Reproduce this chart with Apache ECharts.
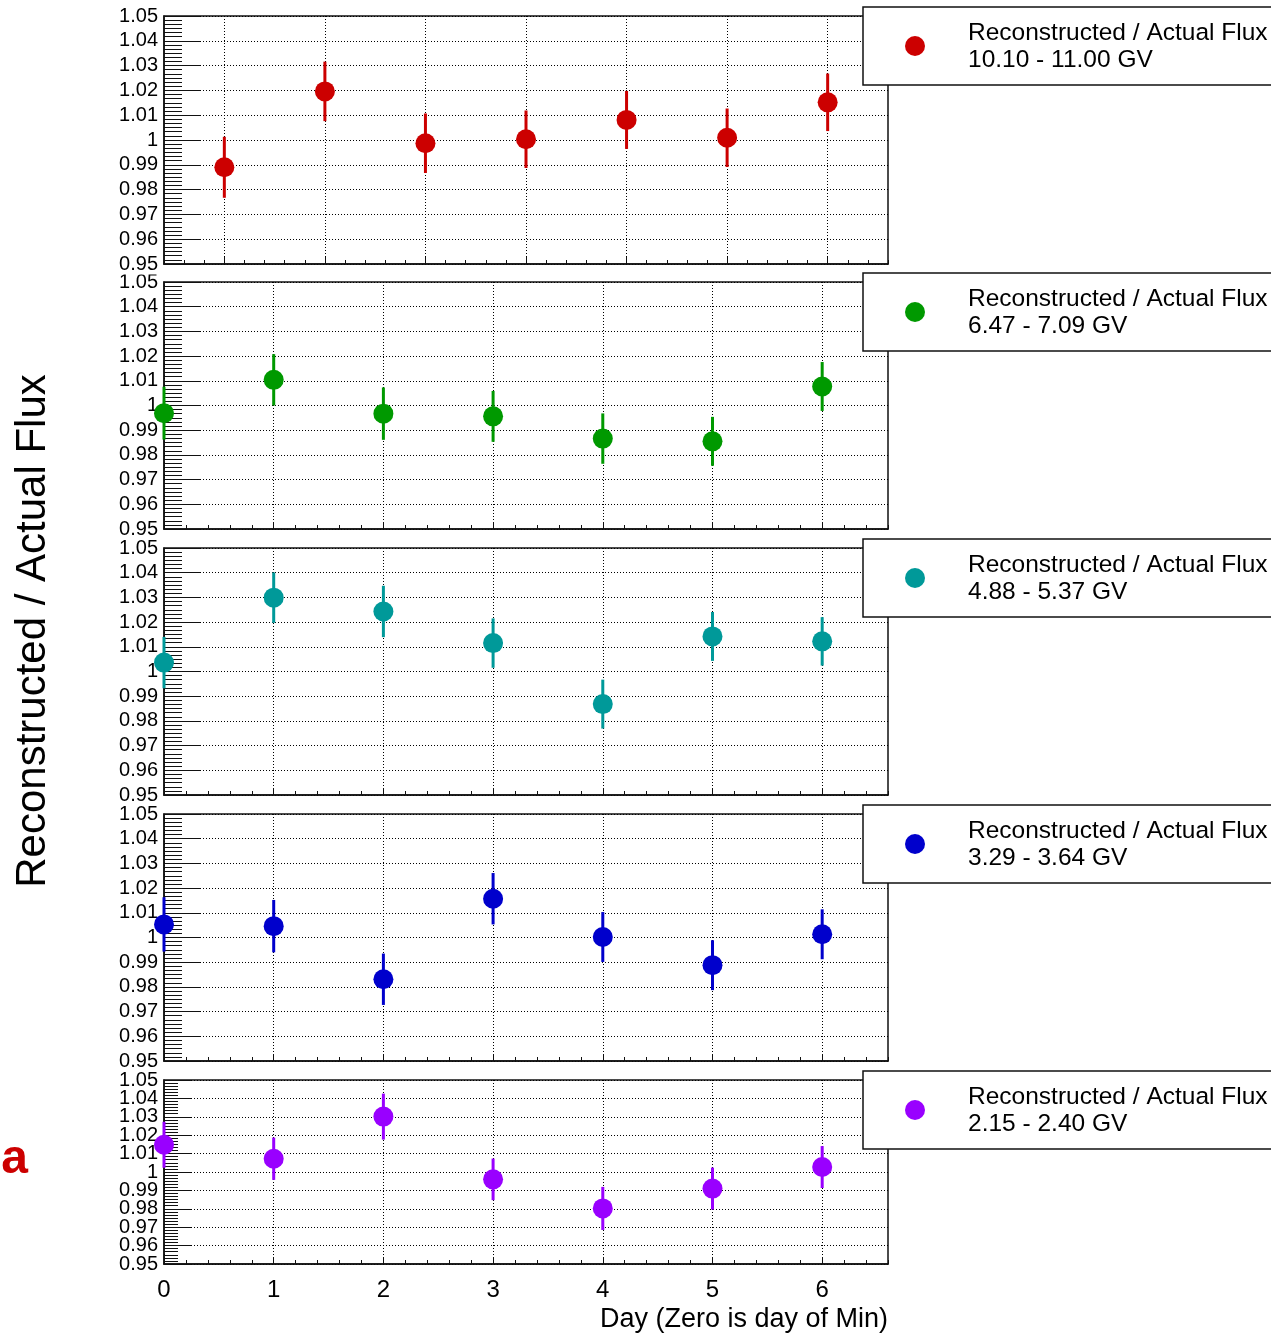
<!DOCTYPE html>
<html><head><meta charset="utf-8">
<script src="https://cdn.jsdelivr.net/npm/echarts@6/dist/echarts.min.js"></script>
<style>html,body{margin:0;padding:0;background:#fff}#c{width:1271px;height:1337px}</style>
</head><body><div id="c"></div>
<script>
// ---------- data ----------
const days = [0, 1, 2, 3, 4, 5, 6];
const xTickLabels = ['0', '1', '2', '3', '4', '5', '6'];
const yTickValues = [0.95, 0.96, 0.97, 0.98, 0.99, 1.00, 1.01, 1.02, 1.03, 1.04, 1.05];
const yTickLabels = ['0.95','0.96','0.97','0.98','0.99','1','1.01','1.02','1.03','1.04','1.05'];

const binLabels = ['10.10 - 11.00 GV', '6.47 - 7.09 GV', '4.88 - 5.37 GV', '3.29 - 3.64 GV', '2.15 - 2.40 GV'];
const seriesTitle = 'Reconstructed / Actual Flux';

const ratio_10_11 = [0.9890, 1.0196, 0.9987, 1.0003, 1.0081, 1.0009, 1.0152];
const err_10_11   = [0.0123, 0.0120, 0.0120, 0.0116, 0.0117, 0.0118, 0.0116];
const ratio_647_709 = [0.9969, 1.0104, 0.9967, 0.9956, 0.9866, 0.9855, 1.0077];
const err_647_709   = [0.0107, 0.0104, 0.0106, 0.0103, 0.0102, 0.0099, 0.0099];
const ratio_488_537 = [1.0036, 1.0299, 1.0243, 1.0115, 0.9868, 1.0142, 1.0122];
const err_488_537   = [0.0104, 0.0102, 0.0104, 0.0100, 0.0099, 0.0099, 0.0098];
const ratio_329_364 = [1.0053, 1.0046, 0.9831, 1.0157, 1.0002, 0.9888, 1.0013];
const err_329_364   = [0.0110, 0.0106, 0.0104, 0.0104, 0.0101, 0.0101, 0.0101];
const ratio_215_240 = [1.0148, 1.0072, 1.0301, 0.9960, 0.9802, 0.9910, 1.0027];
const err_215_240   = [0.0125, 0.0115, 0.0125, 0.0113, 0.0117, 0.0114, 0.0114];

const ratios = [ratio_10_11, ratio_647_709, ratio_488_537, ratio_329_364, ratio_215_240];
const errs   = [err_10_11, err_647_709, err_488_537, err_329_364, err_215_240];
const colors = ['#cc0000', '#009900', '#009999', '#0000cc', '#9900ff'];

// ---------- layout ----------
const FONT = '"Liberation Sans", Arial, Helvetica, sans-serif';
const gridTops = [16, 282, 548, 814, 1080];
const gridHeights = [248, 247, 247, 247, 184];
const xMins = [-0.6, 0, 0, 0, 0];
const X_MAX = 6.6;
const GL = 164, GW = 724;

const grids = [], xAxes = [], yAxes = [], series = [], graphics = [];

function yLabelFmt(v) { return yTickLabels[Math.round((v - 0.95) / 0.01)]; }
const yLabelStyle = {color: '#000', fontSize: 20, fontFamily: FONT, margin: 6, padding: [4, 0, 0, 0]};

function renderErr(params, api) {
  const x = api.value(0), y = api.value(1), e = api.value(2);
  const c = api.coord([x, y]);
  const t = api.coord([x, y + e]);
  const b = api.coord([x, y - e]);
  const col = api.visual('color');
  return {
    type: 'group',
    children: [
      {type: 'line', shape: {x1: c[0], y1: t[1], x2: c[0], y2: b[1]}, style: {stroke: col, lineWidth: 3}},
      {type: 'circle', shape: {cx: c[0], cy: c[1], r: 10}, style: {fill: col}}
    ]
  };
}

for (let i = 0; i < 5; i++) {
  const small = i === 4;
  grids.push({left: GL, top: gridTops[i], width: GW, height: gridHeights[i],
    show: true, borderColor: '#111', borderWidth: 1.5, backgroundColor: 'transparent'});

  xAxes.push({
    gridIndex: i, type: 'value', position: 'bottom', min: xMins[i], max: X_MAX, interval: 0.2,
    axisLine: {show: true, onZero: false, lineStyle: {color: '#111', width: 1.5}},
    axisTick: {show: true, inside: true, length: 7, customValues: days, lineStyle: {color: '#111', width: 1}},
    axisLabel: i === 4 ? {
      show: true, customValues: days, color: '#000', fontSize: 24, fontFamily: FONT, margin: 14,
      formatter: v => xTickLabels[days.indexOf(Math.round(v))]
    } : {show: false},
    splitLine: {show: true, lineStyle: {type: [1, 2], color: '#000', width: 1}}
  });
  xAxes.push({
    gridIndex: i, type: 'value', position: 'bottom', min: xMins[i], max: X_MAX, interval: 0.2,
    axisLine: {show: false, onZero: false},
    axisTick: {show: true, inside: true, length: 4, lineStyle: {color: '#111', width: 1}},
    axisLabel: {show: false}, splitLine: {show: false}
  });

  yAxes.push({
    gridIndex: i, type: 'value', position: 'left', min: 0.95, max: 1.05, interval: 0.01,
    axisLine: {show: true, onZero: false, lineStyle: {color: '#111', width: 1.5}},
    axisTick: {show: true, inside: true, length: small ? 27 : 36, lineStyle: {color: '#111', width: 1}},
    minorTick: {show: true, splitNumber: 6, length: small ? 14 : 18, lineStyle: {color: '#111', width: 1}},
    axisLabel: small
      ? Object.assign({show: true, customValues: yTickValues.filter((v, k) => k % 2 === 0), formatter: yLabelFmt}, yLabelStyle)
      : Object.assign({show: true, showMinLabel: true, showMaxLabel: true, formatter: yLabelFmt}, yLabelStyle),
    splitLine: {show: true, lineStyle: {type: [1, 2], color: '#000', width: 1}}
  });

  series.push({
    type: 'custom', name: binLabels[i], xAxisIndex: 2 * i, yAxisIndex: i,
    data: days.map((d, k) => [d, ratios[i][k], errs[i][k]]),
    renderItem: renderErr, itemStyle: {color: colors[i]}, clip: false, z: 10
  });

  // legend box
  const top = gridTops[i];
  graphics.push({type: 'rect', shape: {x: 863, y: top - 9, width: 440, height: 78},
    style: {fill: '#fff', stroke: '#111', lineWidth: 1.5}, z: 100});
  graphics.push({type: 'circle', shape: {cx: 915, cy: top + 30, r: 10},
    style: {fill: colors[i]}, z: 101});
  graphics.push({type: 'text', x: 968, y: top + 17, z: 101,
    style: {text: seriesTitle, font: '24.5px ' + FONT, fill: '#000', textAlign: 'left', textVerticalAlign: 'middle'}});
  graphics.push({type: 'text', x: 968, y: top + 44, z: 101,
    style: {text: binLabels[i], font: '24.5px ' + FONT, fill: '#000', textAlign: 'left', textVerticalAlign: 'middle'}});

  // pad boundary clipping of the lowest tick label (panels 1-4)
  if (i < 4) {
    const bottom = gridTops[i] + gridHeights[i];
    graphics.push({type: 'rect', shape: {x: 100, y: bottom + 6, width: 62, height: 4.5},
      style: {fill: '#fff'}, z: 99});
  }
}

// extra label axis for the short bottom panel (odd ticks), so all labels show
yAxes.push({
  gridIndex: 4, type: 'value', position: 'left', offset: 0, min: 0.95, max: 1.05, interval: 0.01,
  axisLine: {show: false, onZero: false}, axisTick: {show: false}, minorTick: {show: false}, splitLine: {show: false},
  axisLabel: Object.assign({show: true, customValues: yTickValues.filter((v, k) => k % 2 === 1), formatter: yLabelFmt}, yLabelStyle)
});

// y title
graphics.push({type: 'text', x: 33, y: 631, rotation: Math.PI / 2, z: 101,
  style: {text: 'Reconstructed / Actual Flux', font: '42px ' + FONT, fill: '#000', textAlign: 'center', textVerticalAlign: 'middle'}});
// x title
graphics.push({type: 'text', x: 888, y: 1320, z: 101,
  style: {text: 'Day (Zero is day of Min)', font: '27px ' + FONT, fill: '#000', textAlign: 'right', textVerticalAlign: 'middle'}});
// cut-off red label at left edge
graphics.push({type: 'text', x: 28, y: 1160, z: 101,
  style: {text: 'a', font: 'bold 48px ' + FONT, fill: '#cc0000', textAlign: 'right', textVerticalAlign: 'middle'}});

const chart = echarts.init(document.getElementById('c'), null, {renderer: 'canvas'});
chart.setOption({
  animation: false,
  backgroundColor: '#fff',
  grid: grids, xAxis: xAxes, yAxis: yAxes, series: series, graphic: graphics
});
</script></body></html>
